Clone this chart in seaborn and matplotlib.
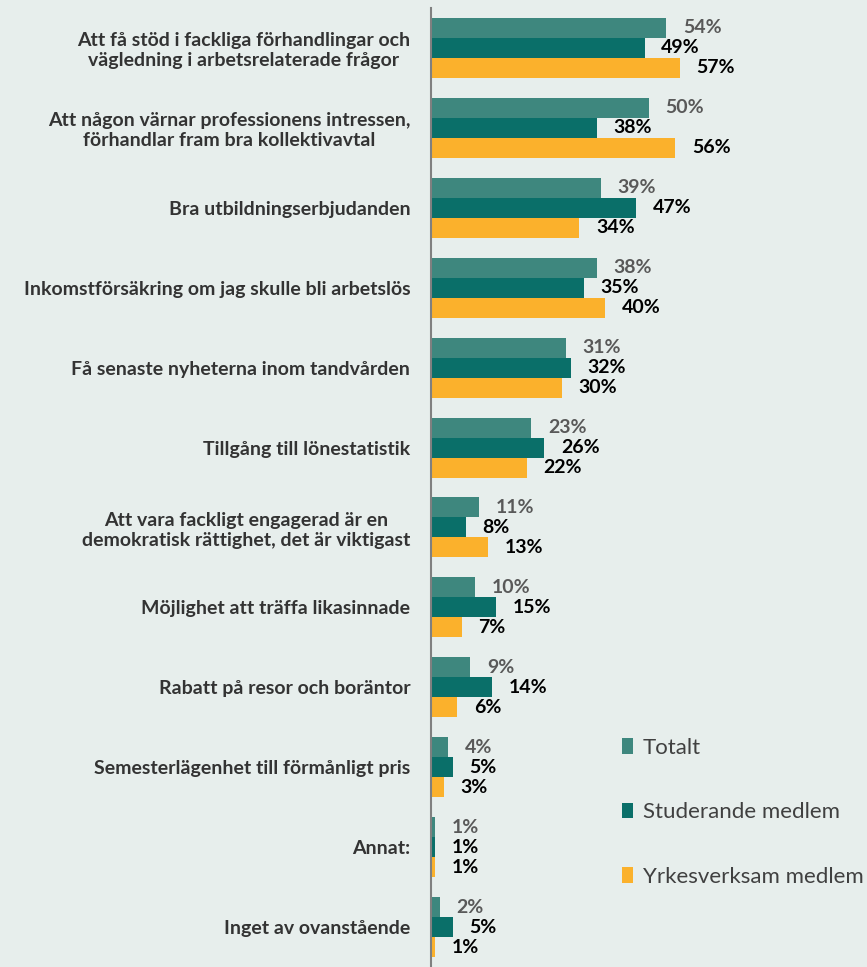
import matplotlib
matplotlib.use("Agg")
import matplotlib.pyplot as plt
import seaborn as sns
import pandas as pd
import numpy as np
from matplotlib.patches import Patch

categories = [
    "Att få stöd i fackliga förhandlingar och\nvägledning i arbetsrelaterade frågor",
    "Att någon värnar professionens intressen,\nförhandlar fram bra kollektivavtal",
    "Bra utbildningserbjudanden",
    "Inkomstförsäkring om jag skulle bli arbetslös",
    "Få senaste nyheterna inom tandvården",
    "Tillgång till lönestatistik",
    "Att vara fackligt engagerad är en\ndemokratisk rättighet, det är viktigast",
    "Möjlighet att träffa likasinnade",
    "Rabatt på resor och boräntor",
    "Semesterlägenhet till förmånligt pris",
    "Annat:",
    "Inget av ovanstående",
]
series = ["Totalt", "Studerande medlem", "Yrkesverksam medlem"]
totalt = [54, 50, 39, 38, 31, 23, 11, 10, 9, 4, 1, 2]
studerande = [49, 38, 47, 35, 32, 26, 8, 15, 14, 5, 1, 5]
yrkesverksam = [57, 56, 34, 40, 30, 22, 13, 7, 6, 3, 1, 1]

colors = ["#3e877e", "#0a6f69", "#fbb12c"]
bg = "#e7eeec"

df = pd.DataFrame({
    "Kategori": categories * 3,
    "Serie": [series[0]] * 12 + [series[1]] * 12 + [series[2]] * 12,
    "Värde": totalt + studerande + yrkesverksam,
})

sns.set_theme(style="white")
plt.rcParams["font.family"] = ["Lato", "DejaVu Sans"]

fig = plt.figure(figsize=(8.67, 9.67), dpi=100, facecolor=bg)
ax = fig.add_axes([431 / 867, 0.0, 1 - 431 / 867, 1 - 8 / 967])
ax.set_facecolor(bg)

sns.barplot(data=df, y="Kategori", x="Värde", hue="Serie", order=categories,
            hue_order=series, palette=colors, orient="h", width=0.75,
            saturation=1, ax=ax, legend=False, linewidth=0)

label_colors = ["#595959", "#000000", "#000000"]
for cont, lc in zip(ax.containers, label_colors):
    ax.bar_label(cont, fmt="%d%%", padding=12, color=lc, fontsize=14,
                 fontweight="bold")

ax.set_xlim(0, 100)
ax.set_ylim(len(categories) - 0.5, -0.5)
ax.set_xlabel("")
ax.set_ylabel("")
ax.set_xticks([])
for s in ["top", "right", "bottom"]:
    ax.spines[s].set_visible(False)
ax.spines["left"].set_color("#808080")
ax.spines["left"].set_linewidth(1.5)

ax.set_yticks(np.arange(len(categories)))
ax.set_yticklabels(categories, fontsize=14, fontweight="bold", color="#333333",
                   ha="right", multialignment="center")
ax.tick_params(axis="y", which="major", length=0, pad=15)
ax.set_yticks(np.arange(len(categories) + 1) - 0.5, minor=True)
ax.tick_params(axis="y", which="minor", length=9, width=1.5, color="#808080",
               direction="out")

handles = [Patch(facecolor=c, edgecolor="none") for c in colors]
leg = fig.legend(handles, series, loc="upper left",
                 bbox_to_anchor=(602 / 867, 1 - 718 / 967),
                 frameon=False, fontsize=16, labelspacing=2.0, handlelength=0.5,
                 handleheight=0.7, handletextpad=0.45)
for t in leg.get_texts():
    t.set_color("#404040")

fig.savefig("out.png", dpi=100, facecolor=bg)
